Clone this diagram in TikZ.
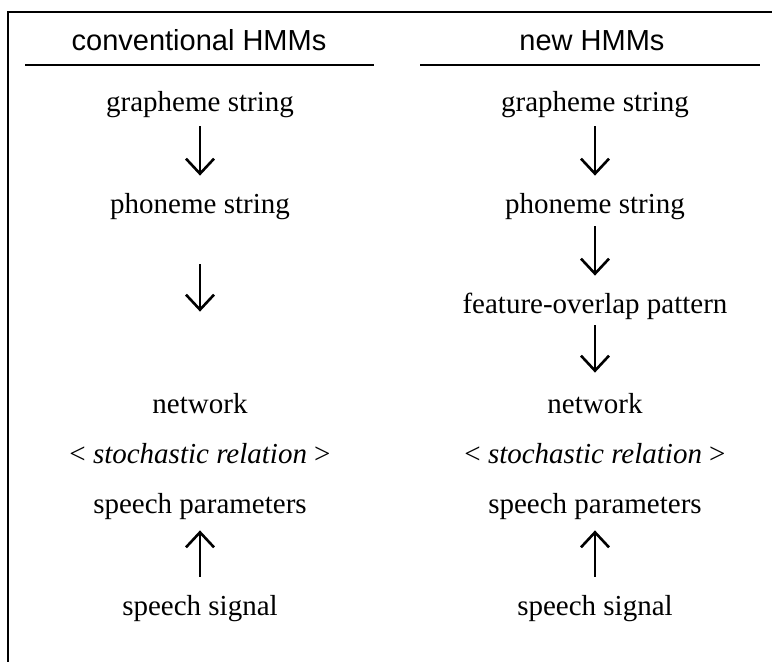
\documentclass[tikz,border=0pt]{standalone}
\usepackage{fontspec}
\setmainfont{Liberation Serif}
\setsansfont{Liberation Sans}
\usetikzlibrary{arrows.meta}

\begin{document}
\begin{tikzpicture}[
  x=0.5pt, y=-0.5pt,
  font=\fontsize{14.5}{17}\selectfont,
  lv/.style={inner sep=0pt, text height=10pt, text depth=3pt},
  hd/.style={lv, font=\fontsize{14.5}{17}\selectfont\sffamily},
  rule/.style={line width=1pt},
  ar/.style={-{Straight Barb[length=7.5pt, width=14pt, line width=1.3pt]}, line width=1.3pt, shorten <=5pt, shorten >=9pt}
]
\useasboundingbox (0,0) rectangle (772,662);
% frame
\draw[rule] (8,662) -- (8,12) -- (772,12);
% headings
\node[hd] (lhead) at (199,44) {conventional HMMs};
\node[hd] (rhead) at (592,44) {new HMMs};
\draw[rule] (25,65) -- (374,65);
\draw[rule] (420,65) -- (760,65);
% conventional HMMs
\node[lv] (lgraph) at (200,105) {grapheme string};
\node[lv] (lphon)  at (200,207) {phoneme string};
\node[lv] (lnet)   at (200,407) {network};
\node[lv] (lrel)   at (200,457) {< \textit{stochastic relation} >};
\node[lv] (lpar)   at (200,507) {speech parameters};
\node[lv] (lsig)   at (200,609) {speech signal};
\draw[ar, shorten <=4pt] (lgraph) -- (lphon);
\draw[ar, shorten <=22pt, shorten >=41pt] (lphon) -- (lnet);
\draw[ar, shorten <=9.5pt, shorten >=5pt] (lsig) -- (lpar);
% new HMMs
\node[lv] (rgraph) at (595,105) {grapheme string};
\node[lv] (rphon)  at (595,207) {phoneme string};
\node[lv] (rfeat)  at (595,307) {feature-overlap pattern};
\node[lv] (rnet)   at (595,407) {network};
\node[lv] (rrel)   at (595,457) {< \textit{stochastic relation} >};
\node[lv] (rpar)   at (595,507) {speech parameters};
\node[lv] (rsig)   at (595,609) {speech signal};
\draw[ar, shorten <=4pt] (rgraph) -- (rphon);
\draw[ar, shorten <=3pt] (rphon) -- (rfeat);
\draw[ar, shorten <=2.5pt, shorten >=10.5pt] (rfeat) -- (rnet);
\draw[ar, shorten <=9.5pt, shorten >=5pt] (rsig) -- (rpar);
\end{tikzpicture}
\end{document}
